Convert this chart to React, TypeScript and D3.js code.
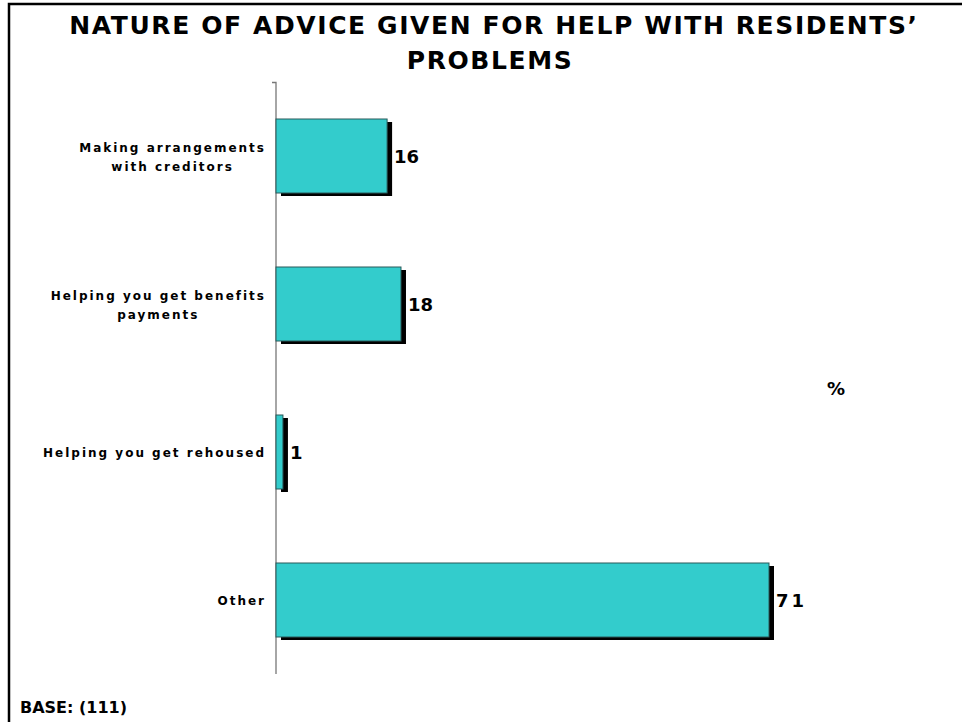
import React, { useEffect, useRef } from "react";
import * as d3 from "d3";

const categories: string[][] = [
  ["Making arrangements", "with creditors"],
  ["Helping you get benefits", "payments"],
  ["Helping you get rehoused"],
  ["Other"],
];
const values: number[] = [16, 18, 1, 71];
const titleLines: string[] = ["NATURE OF ADVICE GIVEN FOR HELP WITH RESIDENTS\u2019", "PROBLEMS"];
const baseText = "BASE: (111)";
const unitText = "%";

const W = 962;
const H = 722;

export default function App() {
  const ref = useRef<SVGSVGElement | null>(null);

  useEffect(() => {
    const svg = d3.select(ref.current);
    svg.selectAll("*").remove();

    const font = "Verdana, 'DejaVu Sans', sans-serif";

    // frame
    svg.append("path")
      .attr("d", `M9,${H + 10} L9,4 L${W + 10},4`)
      .attr("fill", "none")
      .attr("stroke", "#000")
      .attr("stroke-width", 2.5);

    // title
    svg.append("g").selectAll("text").data(titleLines).join("text")
      .attr("x", (d, i) => (i === 0 ? 494 : 490))
      .attr("y", (d, i) => 34 + i * 35)
      .attr("text-anchor", "middle")
      .attr("font-family", font)
      .attr("font-weight", "bold")
      .attr("font-size", 25)
      .attr("letter-spacing", 1.6)
      .text((d) => d);

    const x0 = 276;
    const x = d3.scaleLinear().domain([0, 71]).range([x0, 769]);
    const y = d3.scaleBand<number>()
      .domain(d3.range(values.length))
      .range([82, 674])
      .paddingInner(0.5)
      .paddingOuter(0.25);

    // axis line
    svg.append("path")
      .attr("d", `M272,82.5 L${x0},82.5 L${x0},674`)
      .attr("fill", "none")
      .attr("stroke", "#777")
      .attr("stroke-width", 1.3);

    const g = svg.append("g");
    const bh = y.bandwidth();
    // shadows
    g.selectAll("rect.sh").data(values).join("rect")
      .attr("class", "sh")
      .attr("x", x0 + 5)
      .attr("y", (d, i) => (y(i) as number) + 3)
      .attr("width", (d) => x(d) - x0)
      .attr("height", bh)
      .attr("fill", "#000");
    // bars
    g.selectAll("rect.bar").data(values).join("rect")
      .attr("class", "bar")
      .attr("x", x0)
      .attr("y", (d, i) => y(i) as number)
      .attr("width", (d) => x(d) - x0)
      .attr("height", bh)
      .attr("fill", "#33CCCC")
      .attr("stroke", "#2a5a5a")
      .attr("stroke-width", 1);

    // value labels
    g.selectAll("text.val").data(values).join("text")
      .attr("class", "val")
      .attr("x", (d) => x(d) + 7)
      .attr("y", (d, i) => (y(i) as number) + bh / 2 + 7)
      .attr("font-family", font)
      .attr("font-weight", "bold")
      .attr("font-size", 18)
      .attr("letter-spacing", (d) => (d > 50 ? 3 : 0))
      .text((d) => String(d));

    // category labels
    categories.forEach((lines, i) => {
      const cy = (y(i) as number) + bh / 2;
      const lg = svg.append("g");
      const texts = lines.map((l, j) =>
        lg.append("text")
          .attr("y", cy + 5 + (j - (lines.length - 1) / 2) * 19)
          .attr("text-anchor", "middle")
          .attr("font-family", font)
          .attr("font-weight", "bold")
          .attr("font-size", 12)
          .attr("letter-spacing", 2)
          .text(l)
      );
      let maxW = 0;
      texts.forEach((t) => {
        const n = t.node() as SVGTextElement;
        maxW = Math.max(maxW, n.getComputedTextLength());
      });
      texts.forEach((t) => t.attr("x", 266 - maxW / 2));
    });

    // unit
    svg.append("text")
      .attr("x", 836)
      .attr("y", 395)
      .attr("text-anchor", "middle")
      .attr("font-family", font)
      .attr("font-weight", "bold")
      .attr("font-size", 18)
      .text(unitText);

    // base
    svg.append("text")
      .attr("x", 20)
      .attr("y", 713)
      .attr("font-family", font)
      .attr("font-weight", "bold")
      .attr("font-size", 16)
      .text(baseText);
  }, []);

  return (
    <svg
      ref={ref}
      width={W}
      height={H}
      style={{ position: "fixed", left: 0, top: 0, background: "#fff" }}
    />
  );
}
